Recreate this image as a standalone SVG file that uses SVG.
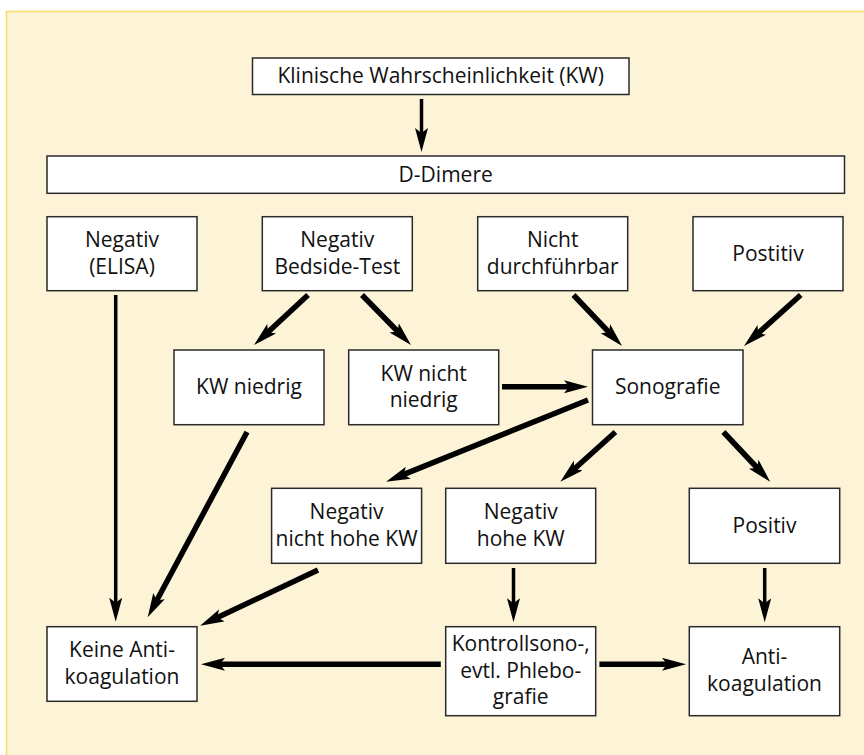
<svg xmlns="http://www.w3.org/2000/svg" width="864" height="755" viewBox="0 0 864 755">
<defs>
<style>
.box{fill:#ffffff;stroke:#2a2a2a;stroke-width:1.5}
.t{font-family:"Open Sans","Noto Sans","Liberation Sans",sans-serif;font-size:21px;fill:#111111;text-anchor:middle}
.a{stroke:#000000;stroke-width:5.5;fill:none;marker-end:url(#ah)}
.th{stroke-width:3.5}
</style>
<marker id="ah" markerUnits="userSpaceOnUse" markerWidth="26" markerHeight="15" refX="10" refY="6.5" orient="auto" viewBox="0 0 26 15">
<path d="M0,0 L24,6.5 L0,13 L5,6.5 z" fill="#000000"/>
</marker>
</defs>
<rect x="0" y="0" width="864" height="755" fill="#ffffff"/>
<rect x="6.5" y="11.5" width="870" height="760" fill="#fdf3d6" stroke="#f9d96c" stroke-width="1.5"/>

<g id="connectors">
<line class="a th" x1="421.5" y1="99" x2="421.5" y2="138"/>
<line class="a th" x1="115.7" y1="295" x2="115.7" y2="607.7"/>
<line class="a" x1="308" y1="295" x2="264.3" y2="335.5"/>
<line class="a" x1="362" y1="295" x2="401.2" y2="335"/>
<line class="a" x1="573.5" y1="295" x2="612.4" y2="335.9"/>
<line class="a" x1="800.7" y1="295" x2="754.4" y2="336.6"/>
<line class="a" x1="502" y1="386.7" x2="574" y2="386.7"/>
<line class="a" x1="588" y1="400" x2="399" y2="476.4"/>
<line class="a" x1="615.4" y1="432" x2="570.7" y2="472.3"/>
<line class="a" x1="723.4" y1="432" x2="760.6" y2="471.5"/>
<line class="a" x1="247" y1="432" x2="154.3" y2="605"/>
<line class="a" x1="318" y1="570" x2="212.7" y2="619.7"/>
<line class="a th" x1="513.5" y1="568" x2="513.5" y2="608.3"/>
<line class="a th" x1="764.7" y1="568" x2="764.7" y2="608.3"/>
<line class="a" x1="440.8" y1="664.3" x2="215" y2="664.3"/>
<line class="a" x1="599.4" y1="664.3" x2="672" y2="664.3"/>
</g>

<g id="n-kw">
<rect class="box" x="252.5" y="58" width="376.5" height="36.5"/>
<text class="t" x="440.7" y="83">Klinische Wahrscheinlichkeit (KW)</text>
</g>
<g id="n-ddimere">
<rect class="box" x="47" y="156" width="797.5" height="37.3"/>
<text class="t" x="445.7" y="181.5">D-Dimere</text>
</g>

<g id="n-neg-elisa">
<rect class="box" x="47" y="216.7" width="150" height="74"/>
<text class="t" x="122" y="247">Negativ</text>
<text class="t" x="122" y="273.5">(ELISA)</text>
</g>
<g id="n-neg-bedside">
<rect class="box" x="262.3" y="216.7" width="150" height="74"/>
<text class="t" x="337.3" y="247">Negativ</text>
<text class="t" x="337.3" y="273.5">Bedside-Test</text>
</g>
<g id="n-nicht">
<rect class="box" x="477.7" y="216.7" width="150" height="74"/>
<text class="t" x="552.7" y="247">Nicht</text>
<text class="t" x="552.7" y="273.5">durchführbar</text>
</g>
<g id="n-postitiv">
<rect class="box" x="693" y="216.7" width="150" height="74"/>
<text class="t" x="768" y="260.5">Postitiv</text>
</g>

<g id="n-kw-niedrig">
<rect class="box" x="174" y="350" width="150" height="74.7"/>
<text class="t" x="249" y="394.3">KW niedrig</text>
</g>
<g id="n-kw-nicht-niedrig">
<rect class="box" x="348.7" y="350" width="150" height="74.7"/>
<text class="t" x="423.7" y="380.6">KW nicht</text>
<text class="t" x="423.7" y="407">niedrig</text>
</g>
<g id="n-sono">
<rect class="box" x="592.5" y="350" width="150.5" height="74.7"/>
<text class="t" x="667.7" y="394.3">Sonografie</text>
</g>

<g id="n-neg-nicht-hohe">
<rect class="box" x="271.6" y="488.3" width="150" height="75"/>
<text class="t" x="346.6" y="519">Negativ</text>
<text class="t" x="346.6" y="545.5">nicht hohe KW</text>
</g>
<g id="n-neg-hohe">
<rect class="box" x="445.7" y="488.3" width="150" height="75"/>
<text class="t" x="520.7" y="519">Negativ</text>
<text class="t" x="520.7" y="545.5">hohe KW</text>
</g>
<g id="n-positiv">
<rect class="box" x="689.3" y="488.3" width="150.4" height="75"/>
<text class="t" x="764.5" y="532.6">Positiv</text>
</g>

<g id="n-keine">
<rect class="box" x="47" y="626.7" width="150" height="74.6"/>
<text class="t" x="122" y="657.2">Keine Anti-</text>
<text class="t" x="122" y="683.7">koagulation</text>
</g>
<g id="n-kontroll">
<rect class="box" x="445.7" y="626.7" width="150" height="89"/>
<text class="t" x="520.7" y="651.2">Kontrollsono-,</text>
<text class="t" x="520.7" y="677.7">evtl. Phlebo-</text>
<text class="t" x="520.7" y="704.2">grafie</text>
</g>
<g id="n-anti">
<rect class="box" x="689.3" y="626.7" width="150.4" height="89"/>
<text class="t" x="764.5" y="664.4">Anti-</text>
<text class="t" x="764.5" y="690.9">koagulation</text>
</g>
</svg>
